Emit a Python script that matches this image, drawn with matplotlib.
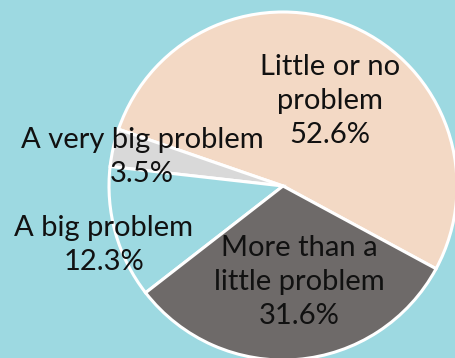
import matplotlib
matplotlib.use("Agg")
import matplotlib.pyplot as plt

categories = ["Little or no\nproblem", "A very big problem", "A big problem", "More than a\nlittle problem"]
values = [52.6, 3.5, 12.3, 31.6]
colors = ["#F3D9C5", "#D9D9D9", "#9DD9E1", "#6E6A69"]
# label centres in pixel coordinates of the image
label_px = [(330, 101), (142, 157), (104, 245), (299, 282)]

W, H = 455, 358
cx, cy, R = 283, 186, 174
bg = "#9DD9E1"

fig = plt.figure(figsize=(W / 100, H / 100), dpi=100, facecolor=bg)
ax = fig.add_axes([0, 0, 1, 1])
ax.set_facecolor(bg)

ax.pie(values, colors=colors, startangle=-28.4, counterclock=True,
       radius=1, center=(0, 0),
       wedgeprops=dict(edgecolor="white", linewidth=2.2))

ax.set_xlim(-cx / R, (W - cx) / R)
ax.set_ylim(-(H - cy) / R, cy / R)
ax.set_aspect("equal")
ax.axis("off")

for cat, val, (px, py) in zip(categories, values, label_px):
    ax.text((px - cx) / R, (cy - py) / R, f"{cat}\n{val:.1f}%",
            ha="center", va="center", fontsize=21, family="Lato",
            color="#111111", linespacing=1.36)

fig.savefig("out.png", dpi=100, facecolor=bg)
